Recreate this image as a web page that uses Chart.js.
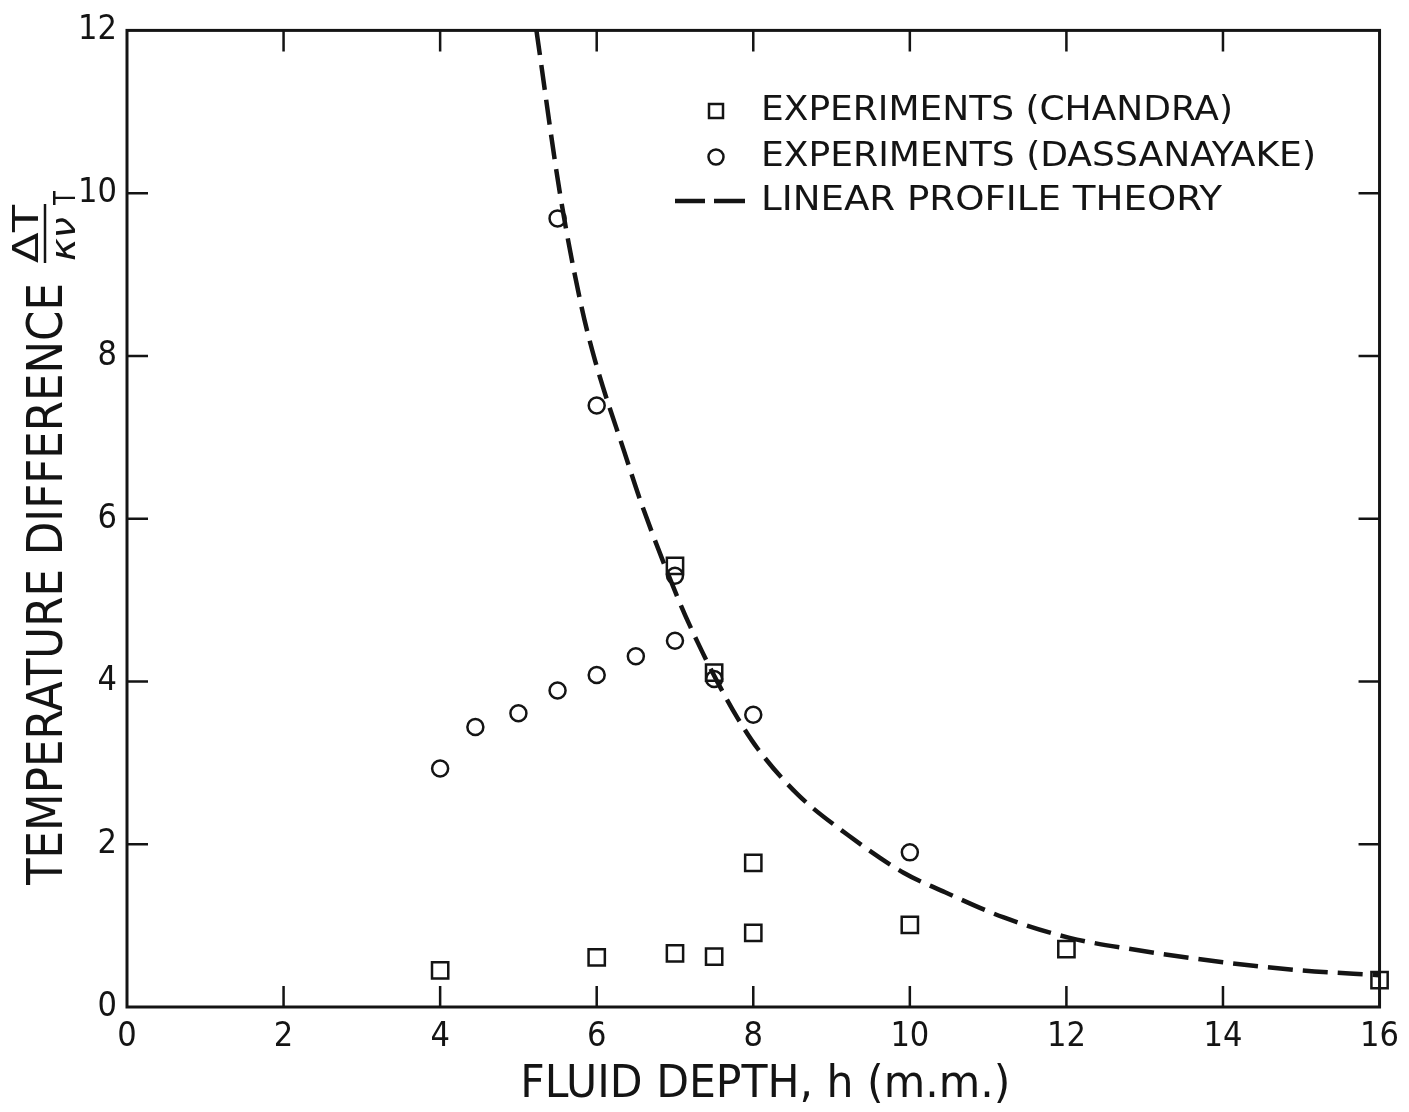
<!DOCTYPE html>
<html>
<head>
<meta charset="utf-8">
<title>Temperature difference vs fluid depth</title>
<script src="https://cdn.jsdelivr.net/npm/chart.js@4.4.1/dist/chart.umd.min.js"></script>
<style>
 html, body { margin: 0; padding: 0; background: #fff; }
 #wrap { width: 1409px; height: 1112px; position: relative; }
</style>
</head>
<body>
<div id="wrap"><canvas id="chart"></canvas></div>
<script>
// experiments (Chandra) - squares
var chandraDepth = [4, 6, 7, 7.5, 8, 8, 7, 7.5, 10, 12, 16];
var chandraDT = [0.45, 0.61, 0.66, 0.62, 0.91, 1.77, 5.42, 4.11, 1.01, 0.71, 0.33];

// experiments (Dassanayake) - circles
var dassDepth = [4, 4.45, 5, 5.5, 6, 6.5, 7, 5.5, 6, 7, 7.5, 8, 10];
var dassDT = [2.93, 3.44, 3.61, 3.89, 4.08, 4.31, 4.5, 9.69, 7.39, 5.3, 4.03, 3.59, 1.9];

// linear profile theory
var theoryDepth = [5.23, 5.53, 5.8, 5.98, 6.36, 6.57, 7.06, 7.29, 7.55, 7.8, 8.06, 8.57, 9.2, 9.92, 10.45, 11.2, 12.04, 12.9, 14, 15, 16];
var theoryDT = [12, 10, 8.63, 7.94, 6.8, 6.19, 4.97, 4.48, 3.98, 3.55, 3.17, 2.61, 2.12, 1.65, 1.41, 1.1, 0.85, 0.7, 0.55, 0.45, 0.39];

var xTicks = [0, 2, 4, 6, 8, 10, 12, 14, 16];
var yTicks = [0, 2, 4, 6, 8, 10, 12];

var legendLabels = [
 "EXPERIMENTS (CHANDRA)",
 "EXPERIMENTS (DASSANAYAKE)",
 "LINEAR PROFILE THEORY",
];
var xTitle = "FLUID DEPTH, h (m.m.)";
var yTitle = "TEMPERATURE DIFFERENCE";

var INK = "#141414";
var FONT = "'DejaVu Sans Condensed', 'DejaVu Sans', sans-serif";
var TICK = 21;

function toPoints(xs, ys) {
 return xs.map(function (x, i) {
  return { x: x, y: ys[i] };
 });
}

// frame round the plot with inward ticks on all four sides
var framePlugin = {
 id: "frame",
 beforeDatasetsDraw: function (chart) {
  var ctx = chart.ctx;
  var a = chart.chartArea;
  var xs = chart.scales.x;
  var ys = chart.scales.y;
  ctx.save();
  ctx.strokeStyle = INK;
  ctx.lineWidth = 3;
  ctx.strokeRect(a.left, a.top, a.right - a.left, a.bottom - a.top);
  ctx.lineWidth = 2.5;
  ctx.beginPath();
  xTicks.forEach(function (v) {
   var px = xs.getPixelForValue(v);
   if (px <= a.left + 1 || px >= a.right - 1) return;
   ctx.moveTo(px, a.bottom);
   ctx.lineTo(px, a.bottom - TICK);
   ctx.moveTo(px, a.top);
   ctx.lineTo(px, a.top + TICK);
  });
  yTicks.forEach(function (v) {
   var py = ys.getPixelForValue(v);
   if (py <= a.top + 1 || py >= a.bottom - 1) return;
   ctx.moveTo(a.left, py);
   ctx.lineTo(a.left + TICK, py);
   ctx.moveTo(a.right, py);
   ctx.lineTo(a.right - TICK, py);
  });
  ctx.stroke();
  ctx.restore();
 },
};

function fitText(ctx, text, x, y, width) {
 var w = ctx.measureText(text).width;
 ctx.save();
 ctx.translate(x, y);
 ctx.scale(width / w, 1);
 ctx.fillText(text, 0, 0);
 ctx.restore();
}

// axis titles: rotated y title with the dimensionless fraction, x title below
var titlesPlugin = {
 id: "titles",
 afterDraw: function (chart) {
  var ctx = chart.ctx;
  var a = chart.chartArea;
  ctx.save();
  ctx.fillStyle = INK;
  ctx.strokeStyle = INK;
  ctx.textBaseline = "middle";
  ctx.textAlign = "left";

  ctx.font = "45px " + FONT;
  var cx = (a.left + a.right) / 2 + 12;
  fitText(ctx, xTitle, cx - 245, 1085, 490);

  ctx.save();
  ctx.translate(49, 885);
  ctx.rotate(-Math.PI / 2);
  ctx.font = "50px " + FONT;
  fitText(ctx, yTitle, 0, 0, 602);
  ctx.restore();

  ctx.save();
  ctx.translate(29, 263);
  ctx.rotate(-Math.PI / 2);
  ctx.font = "36px " + FONT;
  fitText(ctx, "\u0394T", 0, 0, 58);
  ctx.restore();

  ctx.lineWidth = 2.5;
  ctx.beginPath();
  ctx.moveTo(45, 263);
  ctx.lineTo(45, 204);
  ctx.stroke();

  ctx.save();
  ctx.translate(66, 261);
  ctx.rotate(-Math.PI / 2);
  ctx.font = "italic 34px " + FONT;
  fitText(ctx, "\u03BA\u03BD", 0, 0, 44);
  ctx.restore();

  ctx.save();
  ctx.translate(67, 205);
  ctx.rotate(-Math.PI / 2);
  ctx.font = "30px " + FONT;
  fitText(ctx, "T", 0, 0, 14);
  ctx.restore();

  ctx.restore();
 },
};

// legend in the upper right of the plot
var legendPlugin = {
 id: "paperLegend",
 afterDraw: function (chart) {
  var ctx = chart.ctx;
  var rows = [111, 157, 201];
  var widths = [472, 555, 461];
  ctx.save();
  ctx.strokeStyle = INK;
  ctx.fillStyle = INK;
  ctx.lineWidth = 2.5;
  ctx.strokeRect(709, rows[0] - 7, 14, 14);
  ctx.beginPath();
  ctx.arc(716, rows[1], 7.5, 0, Math.PI * 2);
  ctx.stroke();
  ctx.lineWidth = 4.5;
  ctx.beginPath();
  ctx.moveTo(675, rows[2]);
  ctx.lineTo(705, rows[2]);
  ctx.moveTo(714, rows[2]);
  ctx.lineTo(745, rows[2]);
  ctx.stroke();
  ctx.font = "34px " + FONT;
  ctx.textBaseline = "middle";
  legendLabels.forEach(function (label, i) {
   fitText(ctx, label, 761, rows[i], widths[i]);
  });
  ctx.restore();
 },
};

var chartDiv = document.getElementById("chart");

new Chart(chartDiv, {
 type: "scatter",
 data: {
  datasets: [
   {
    label: legendLabels[0],
    data: toPoints(chandraDepth, chandraDT),
    pointStyle: "rect",
    pointRadius: 11.5,
    pointBorderWidth: 2.5,
    borderColor: INK,
    backgroundColor: "rgba(255,255,255,0)",
    clip: false,
   },
   {
    label: legendLabels[1],
    data: toPoints(dassDepth, dassDT),
    pointStyle: "circle",
    pointRadius: 8,
    pointBorderWidth: 2.5,
    borderColor: INK,
    backgroundColor: "rgba(255,255,255,0)",
    clip: false,
   },
   {
    label: legendLabels[2],
    data: toPoints(theoryDepth, theoryDT),
    showLine: true,
    pointRadius: 0,
    borderColor: INK,
    borderWidth: 4.5,
    borderDash: [25, 10],
    cubicInterpolationMode: "monotone",
    fill: false,
   },
  ],
 },
 options: {
  responsive: true,
  maintainAspectRatio: false,
  animation: false,
  layout: {
   padding: { left: 0, right: 25, top: 24, bottom: 0 },
  },
  plugins: {
   legend: { display: false },
   tooltip: { enabled: false },
  },
  scales: {
   x: {
    type: "linear",
    min: 0,
    max: 16,
    afterBuildTicks: function (scale) {
     scale.ticks = xTicks.map(function (v) {
      return { value: v };
     });
    },
    afterFit: function (scale) {
     scale.height = 105;
    },
    grid: { display: false, drawTicks: false },
    border: { display: false },
    ticks: {
     color: INK,
     padding: 10,
     maxRotation: 0,
     font: { family: FONT, size: 34 },
    },
   },
   y: {
    type: "linear",
    min: 0,
    max: 12,
    afterBuildTicks: function (scale) {
     scale.ticks = yTicks.map(function (v) {
      return { value: v };
     });
    },
    afterFit: function (scale) {
     scale.width = 127;
    },
    grid: { display: false, drawTicks: false },
    border: { display: false },
    ticks: {
     color: INK,
     padding: 10,
     font: { family: FONT, size: 34 },
    },
   },
  },
 },
 plugins: [framePlugin, titlesPlugin, legendPlugin],
});
</script>
</body>
</html>
